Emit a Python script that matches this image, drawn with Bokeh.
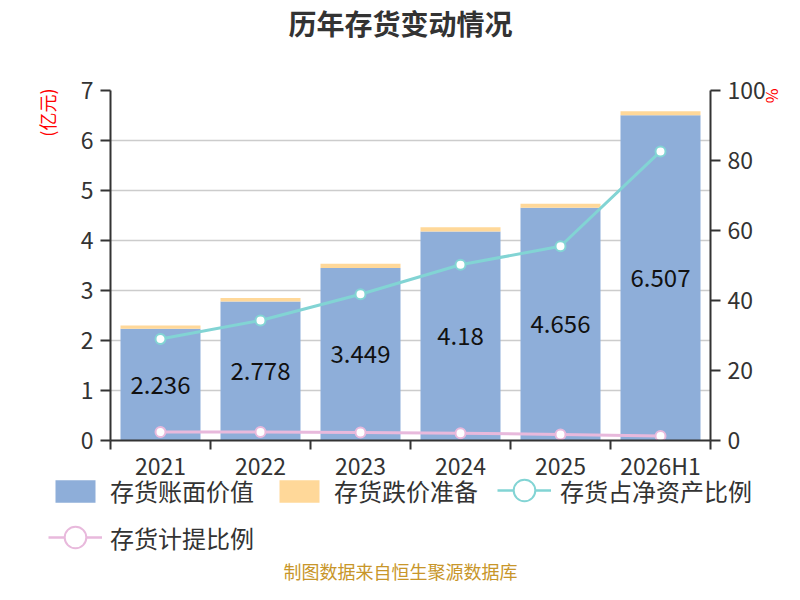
from bokeh.plotting import figure
from bokeh.models import (Range1d, LinearAxis, FixedTicker, Legend, LegendItem,
                          Title, Label, ColumnDataSource)
from bokeh.core.properties import value
from bokeh.embed import file_html
from bokeh.resources import INLINE

categories = ["2021", "2022", "2023", "2024", "2025", "2026H1"]
book_value = [2.236, 2.778, 3.449, 4.18, 4.656, 6.507]
impairment = [0.065, 0.07, 0.085, 0.085, 0.08, 0.08]
inv_to_net_assets = [29.0, 34.3, 41.8, 50.2, 55.5, 82.6]
provision_ratio = [2.4, 2.4, 2.3, 2.1, 1.7, 1.3]
left_ticks = [0, 1, 2, 3, 4, 5, 6, 7]
right_ticks = [0, 20, 40, 60, 80, 100]
series_names = ["存货账面价值", "存货跌价准备", "存货占净资产比例", "存货计提比例"]

FONT = "Noto Sans CJK SC"
TXT = "#333333"
BLUE = "#8eaed9"
ORANGE = "#ffd899"
TEAL = "#82d4d4"
PINK = "#e8b9dc"
W = 784


def blank(height, **kw):
    f = figure(width=W, height=height, output_backend="svg", toolbar_location=None,
               tools="", x_axis_location=None, y_axis_location=None, min_border=0,
               x_range=Range1d(0, 1), y_range=Range1d(0, 1), **kw)
    f.grid.visible = False
    f.outline_line_color = None
    f.background_fill_alpha = 0
    f.border_fill_alpha = 0
    return f


def style_legend(lg, gw, gh, standoff):
    lg.label_text_font = FONT
    lg.label_text_font_size = "24px"
    lg.label_text_color = TXT
    lg.glyph_width = gw
    lg.glyph_height = gh
    lg.label_height = 28
    lg.label_standoff = standoff
    lg.padding = 0
    lg.margin = 0
    lg.border_line_color = None
    lg.background_fill_alpha = 0


# ---------- title figure ----------
ft = blank(70)
ft.add_layout(Label(x=400, y=48, x_units="screen", y_units="screen",
                    text="历年存货变动情况", text_align="center", text_baseline="middle",
                    text_font=FONT, text_font_size="28px", text_font_style="bold",
                    text_color=TXT))

# ---------- main chart ----------
xs = [i + 0.5 for i in range(len(categories))]
tops = [b + r for b, r in zip(book_value, impairment)]
mids = [b / 2 for b in book_value]

src = ColumnDataSource(dict(x=xs, book=book_value, top=tops, mid=mids,
                            lbl=[str(v) for v in book_value],
                            pct=inv_to_net_assets, prov=provision_ratio))

p = figure(width=W, height=414, output_backend="svg", toolbar_location=None,
           tools="", x_range=Range1d(0, len(categories)), y_range=Range1d(0, 7),
           min_border_left=110, min_border_right=74, min_border_top=20,
           min_border_bottom=44)
p.extra_y_ranges = {"pct": Range1d(0, 100)}
p.outline_line_color = None
p.background_fill_color = "white"
p.border_fill_color = "white"

xa = p.xaxis[0]
xa.ticker = FixedTicker(ticks=xs, minor_ticks=list(range(len(categories) + 1)))
xa.major_label_overrides = {x: c for x, c in zip(xs, categories)}
xa.major_tick_line_color = None
xa.major_tick_out = 0
xa.major_tick_in = 0
xa.minor_tick_out = 9
xa.minor_tick_in = 0
xa.minor_tick_line_color = TXT
xa.minor_tick_line_width = 2
xa.axis_line_color = TXT
xa.axis_line_width = 2
xa.major_label_text_font = FONT
xa.major_label_text_font_size = "23px"
xa.major_label_text_color = TXT
xa.major_label_standoff = -2

ya = p.yaxis[0]
ya.ticker = FixedTicker(ticks=left_ticks, minor_ticks=[])
ya.axis_line_color = TXT
ya.axis_line_width = 2
ya.major_tick_line_color = TXT
ya.major_tick_line_width = 2
ya.major_tick_out = 10
ya.major_tick_in = 0
ya.major_label_text_font = FONT
ya.major_label_text_font_size = "23px"
ya.major_label_text_color = TXT
ya.major_label_standoff = 7

ra = LinearAxis(y_range_name="pct", ticker=FixedTicker(ticks=right_ticks, minor_ticks=[]))
ra.axis_line_color = TXT
ra.axis_line_width = 2
ra.major_tick_line_color = TXT
ra.major_tick_line_width = 2
ra.major_tick_out = 10
ra.major_tick_in = 0
ra.major_label_text_font = FONT
ra.major_label_text_font_size = "23px"
ra.major_label_text_color = TXT
ra.major_label_standoff = 7
p.add_layout(ra, "right")

p.xgrid.grid_line_color = None
p.ygrid.ticker = FixedTicker(ticks=left_ticks)
p.ygrid.grid_line_color = "#cccccc"
p.ygrid.grid_line_width = 1.5

p.add_layout(Title(text="(亿元)", align="right", offset=-2, standoff=36, text_font=FONT,
                   text_font_size="18px", text_font_style="normal",
                   text_color="red"), "left")
p.add_layout(Title(text="%", align="left", offset=-2, standoff=-16, text_font=FONT,
                   text_font_size="16px", text_font_style="normal",
                   text_color="red"), "right")

p.vbar(x="x", bottom=0, top="book", width=0.8, source=src,
       fill_color=BLUE, line_color=None)
p.vbar(x="x", bottom="book", top="top", width=0.8, source=src,
       fill_color=ORANGE, line_color=None)

p.text(x="x", y="mid", text="lbl", source=src, text_align="center",
       text_baseline="middle", text_font=value(FONT), text_font_size="24px",
       text_color="#111111")

p.line(x="x", y="pct", source=src, y_range_name="pct", line_color=TEAL, line_width=3)
p.scatter(x="x", y="pct", source=src, y_range_name="pct", size=10, marker="circle",
          fill_color="white", line_color=TEAL, line_width=2)
p.line(x="x", y="prov", source=src, y_range_name="pct", line_color=PINK, line_width=3)
p.scatter(x="x", y="prov", source=src, y_range_name="pct", size=10, marker="circle",
          fill_color="white", line_color=PINK, line_width=2)

# ---------- legend + footer figure ----------
fb = blank(115, margin=(-15, 0, 0, 0))
off = dict(x=[-5.0], y=[-5.0])  # legend-only swatches, outside the visible range
g1 = fb.vbar(x=off["x"], top=off["y"], width=0.8, fill_color=BLUE, line_color=None)
g2 = fb.vbar(x=off["x"], top=off["y"], width=0.8, fill_color=ORANGE, line_color=None)
g3l = fb.line(x=off["x"], y=off["y"], line_color=TEAL, line_width=2.5)
g3m = fb.scatter(x=off["x"], y=off["y"], marker="circle", fill_color="white",
                 line_color=TEAL, line_width=2)
g4l = fb.line(x=off["x"], y=off["y"], line_color=PINK, line_width=2.5)
g4m = fb.scatter(x=off["x"], y=off["y"], marker="circle", fill_color="white",
                 line_color=PINK, line_width=2)

lg1 = Legend(items=[LegendItem(label=series_names[0], renderers=[g1]),
                    LegendItem(label=series_names[1], renderers=[g2])],
             location=(50, 76), orientation="horizontal")
style_legend(lg1, 50, 28, 10)
lg1.label_width = 152
lg1.spacing = 12
fb.add_layout(lg1, "center")

lg2 = Legend(items=[LegendItem(label=series_names[2], renderers=[g3l, g3m])],
             location=(497, 67), orientation="horizontal")
style_legend(lg2, 54, 54, 9)
fb.add_layout(lg2, "center")

lg3 = Legend(items=[LegendItem(label=series_names[3], renderers=[g4l, g4m])],
             location=(48, 20), orientation="horizontal")
style_legend(lg3, 54, 54, 8)
fb.add_layout(lg3, "center")

fb.add_layout(Label(x=400, y=14, x_units="screen", y_units="screen",
                    text="制图数据来自恒生聚源数据库", text_align="center",
                    text_baseline="middle", text_font=FONT, text_font_size="18px",
                    text_color="#c8962a"))

open("out.html", "w").write(file_html([ft, p, fb], INLINE))
